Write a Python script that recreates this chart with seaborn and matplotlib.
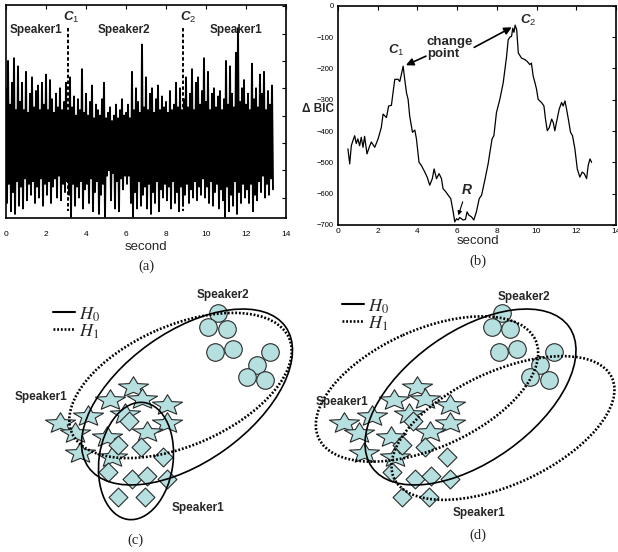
import numpy as np
import pandas as pd
import matplotlib.pyplot as plt
import seaborn as sns
from matplotlib.patches import Ellipse
from matplotlib.path import Path

sns.set_style('white')
plt.rcParams['font.family'] = ['Liberation Sans', 'DejaVu Sans']
plt.rcParams['mathtext.fontset'] = 'custom'
plt.rcParams['mathtext.bf'] = 'Liberation Sans:bold:italic'
plt.rcParams['mathtext.it'] = 'Liberation Sans:italic'
plt.rcParams['mathtext.rm'] = 'Liberation Sans'

# (a) speech waveform: upper / lower peaks every 0.1 s
wave_up = [20, 30, 14, 22, 31, 12, 28, 15, 22, 12,
           26, 11, 18, 24, 13, 19, 21, 12, 22, 14,
           25, 12, 23, 16, 11, 18, 13, 20, 12, 15,
           22, 11, 24, 13, 17, 10, 16, 12, 27, 11,
           18, 10, 15, 21, 9, 14, 12, 10, 16, 22,
           9, 11, 13, 8, 10, 14, 9, 12, 16, 10,
           11, 14, 9, 26, 12, 20, 15, 11, 36, 13,
           24, 12, 18, 20, 11, 16, 21, 12, 17, 13,
           15, 11, 19, 12, 14, 22, 13, 20, 12, 16,
           24, 13, 18, 27, 12, 22, 24, 14, 19, 31,
           15, 26, 12, 18, 20, 13, 17, 19, 12, 16,
           30, 14, 28, 18, 13, 33, 42, 15, 20, 23,
           14, 18, 12, 29, 16, 20, 13, 25, 18, 26,
           12, 19, 14, 21]
wave_low = [-22, -15, -25, -18, -26, -14, -23, -16, -24, -13,
            -21, -15, -19, -14, -22, -16, -20, -13, -23, -15,
            -19, -14, -22, -16, -13, -20, -12, -21, -15, -18,
            -14, -19, -27, -15, -23, -16, -20, -14, -24, -17,
            -15, -22, -13, -25, -18, -14, -26, -19, -15, -27,
            -12, -10, -21, -11, -24, -14, -25, -13, -17, -12,
            -15, -12, -22, -27, -18, -24, -14, -23, -19, -16,
            -24, -15, -26, -18, -22, -14, -25, -17, -20, -15,
            -21, -16, -24, -14, -22, -18, -25, -16, -23, -19,
            -15, -22, -17, -20, -14, -21, -16, -19, -13, -20,
            -16, -22, -14, -23, -18, -15, -24, -17, -21, -27,
            -16, -25, -19, -23, -14, -26, -18, -22, -15, -20,
            -17, -22, -15, -25, -19, -21, -14, -18, -12, -20,
            -15, -19, -13, -17]
change_t = [3.12, 8.87]
speaker_t = [1.5, 5.9, 11.5]
speaker_names = ['Speaker1', 'Speaker2', 'Speaker1']

# (b) delta BIC curve
bic_t = [0.50, 0.59, 0.67, 0.75, 0.84, 0.92, 1.00, 1.09, 1.17, 1.26, 1.34, 1.46, 1.60, 1.68,
         1.85, 2.02, 2.18, 2.27, 2.44, 2.55, 2.69, 2.77, 2.86, 3.03, 3.11, 3.19, 3.28, 3.36,
         3.45, 3.53, 3.61, 3.75, 3.87, 3.95, 4.08, 4.20, 4.37, 4.49, 4.62, 4.75, 4.84, 4.96,
         5.09, 5.21, 5.29, 5.43, 5.55, 5.68, 5.80, 5.88, 5.97, 6.05, 6.13, 6.30, 6.42, 6.50,
         6.58, 6.72, 6.84, 6.97, 7.11, 7.23, 7.39, 7.56, 7.65, 7.76, 7.85, 7.98, 8.15, 8.32,
         8.49, 8.57, 8.66, 8.74, 8.80, 8.86, 8.92, 9.00, 9.08, 9.24, 9.41, 9.53, 9.66, 9.74,
         9.83, 9.92, 10.00, 10.08, 10.25, 10.37, 10.45, 10.54, 10.64, 10.76, 10.84, 10.92,
         11.00, 11.14, 11.26, 11.34, 11.43, 11.51, 11.60, 11.71, 11.81, 11.93, 12.05, 12.18,
         12.30, 12.40, 12.52, 12.60, 12.69, 12.77]
bic_v = [-457, -505, -447, -431, -415, -440, -425, -447, -420, -452, -417, -473, -447, -435,
         -452, -425, -389, -346, -357, -320, -318, -278, -235, -235, -242, -220, -193, -235,
         -278, -299, -352, -404, -397, -425, -500, -510, -531, -547, -573, -552, -521, -552,
         -536, -552, -584, -594, -605, -616, -658, -690, -680, -684, -676, -684, -682, -658,
         -668, -674, -684, -658, -616, -605, -558, -505, -468, -425, -415, -341, -299, -246,
         -162, -109, -100, -98, -72, -85, -62, -77, -151, -167, -172, -178, -188, -183,
         -225, -246, -267, -299, -309, -320, -362, -399, -389, -362, -373, -399,
         -373, -330, -309, -320, -304, -330, -362, -404, -415, -457, -521, -547,
         -531, -536, -552, -510, -489, -500]

# (c)/(d) schematic clusters, in panel (c) units; panel (d) is the same cloud shifted
star_x = [133.3, 110, 141.7, 166.7, 60, 88.3, 125, 166.7, 75, 107.3, 146.7, 80, 111.7]
star_y = [387.3, 400, 399, 405, 423.3, 415.7, 414, 423.3, 433.3, 437.3, 431.7, 452.7, 456.7]
diam_x = [129.3, 118.3, 141, 163.3, 108.3, 131.7, 147.3, 166.7, 118.3, 145]
diam_y = [420.7, 445, 446.7, 457.3, 471.7, 479.3, 476, 479.3, 496.7, 496.7]
circ_x = [218.3, 208.3, 226.7, 215, 233.3, 270, 256.7, 246.7, 265]
circ_y = [313.3, 326.7, 329.3, 351.7, 349, 351.7, 365, 377.3, 380]
panel_dx = [0, 283.5]

# Gaussian ellipses: (c) H0 big, H1 big, H0 small, (d) H0, H1 upper, H1 lower
ell_cx = [187, 180.5, 136, 470.5, 427, 503]
ell_cy = [397, 385.5, 461, 397, 389, 428]
ell_w = [242, 237, 74, 242, 238, 240]
ell_h = [130, 120, 118, 130, 118, 113]
ell_ang = [35.5, 23.6, -8, 35.5, 24.2, 24.8]
ell_dotted = [False, True, False, False, True, True]

fill_col = '#b6dfdf'
edge_col = '#2b2b2b'

fig = plt.figure(figsize=(6.18, 5.52), dpi=100)
W, H = 618, 552


def px_axes(x0, y0, x1, y1):
    return fig.add_axes([x0 / W, 1 - y1 / H, (x1 - x0) / W, (y1 - y0) / H])


def style_box(ax):
    for s in ax.spines.values():
        s.set_color('k')
        s.set_linewidth(1.2)
    ax.tick_params(direction='in', length=3, width=0.8, top=True, right=True,
                   labelsize=6, colors='k')


# ---- (a)
ax1 = px_axes(6, 5, 286, 218)
n = len(wave_up)
t_up = np.arange(n) * 0.1
wave = pd.DataFrame({'t': np.concatenate([t_up, t_up + 0.05]),
                     'amp': np.concatenate([wave_up, wave_low])}).sort_values('t')
sns.lineplot(data=wave, x='t', y='amp', ax=ax1, color='k', lw=1.4, estimator=None)
for ct in change_t:
    ax1.plot([ct, ct], [42, -25], color='k', lw=1.4, ls=(0, (1.8, 1.2)))
for st, name in zip(speaker_t, speaker_names):
    ax1.text(st, 41.4, name, ha='center', va='center', fontsize=8.5, fontweight='bold')
ax1.text(2.85, 46, r'$\mathbf{C}_{\mathit{1}}$', ha='left', va='center', fontsize=9.5)
ax1.text(8.7, 46, r'$\mathbf{C}_{\mathit{2}}$', ha='left', va='center', fontsize=9.5)
ax1.set_xlim(0, 14)
ax1.set_ylim(-27.5, 50.5)
ax1.set_xticks(range(0, 15, 2))
ax1.set_yticks(range(-20, 51, 10))
ax1.set_yticklabels([])
ax1.set_xlabel('')
ax1.set_ylabel('')
style_box(ax1)
ax1.tick_params(axis='x', pad=9)

# ---- (b)
ax2 = px_axes(338, 5.7, 616, 225)
sns.lineplot(x=bic_t, y=bic_v, ax=ax2, color='k', lw=0.9, estimator=None)
ax2.set_xlim(0, 14)
ax2.set_ylim(-700, 0)
ax2.set_xticks(range(0, 15, 2))
ax2.set_yticks(range(-700, 1, 100))
style_box(ax2)
ax2.tick_params(axis='y', labelsize=5.5, pad=3)
ax2.tick_params(axis='x', pad=2)
ax2.text(2.52, -142, r'$\mathbf{C}_{\mathit{1}}$', ha='left', va='center', fontsize=9.5)
ax2.text(9.16, -46, r'$\mathbf{C}_{\mathit{2}}$', ha='left', va='center', fontsize=9.5)
ax2.text(4.47, -134, 'change\npoint', ha='left', va='center', fontsize=9.5,
         fontweight='bold', linespacing=1.0)
arr = dict(arrowstyle='-|>', color='k', lw=1.2, mutation_scale=11, shrinkA=0, shrinkB=0)
ax2.annotate('', xy=(3.42, -190), xytext=(4.43, -161), arrowprops=arr)
ax2.annotate('', xy=(8.75, -69), xytext=(6.86, -133), arrowprops=arr)
ax2.text(6.48, -589, 'R', ha='center', va='center', fontsize=10, fontweight='bold',
         fontstyle='italic')
ax2.annotate('', xy=(6.06, -669), xytext=(6.28, -626),
             arrowprops=dict(arrowstyle='-|>', color='k', lw=0.8, mutation_scale=6,
                             shrinkA=0, shrinkB=0))
fig.text(318 / W, 1 - 109 / H, '\u0394 BIC', ha='center', va='center', fontsize=8.5,
         fontweight='bold')

fig.text(146 / W, 1 - 247 / H, 'second', ha='center', va='center', fontsize=9.5)
fig.text(478 / W, 1 - 241 / H, 'second', ha='center', va='center', fontsize=9.5)
for lab, x, y in [('(a)', 146, 266), ('(b)', 478, 261), ('(c)', 135, 540), ('(d)', 478, 535)]:
    fig.text(x / W, 1 - y / H, lab, ha='center', va='center', fontsize=10.5,
             family='Liberation Serif')

# ---- (c) and (d)
ax3 = px_axes(0, 270, 618, 552)
ax3.set_xlim(0, 618)
ax3.set_ylim(552, 270)
ax3.axis('off')

sv = Path.unit_regular_star(5, 0.45)
star_m = Path(sv.vertices * np.array([1.0, 0.68]), sv.codes)
diam_m = Path([(0, 1), (1, 0), (0, -1), (-1, 0), (0, 1)],
              [Path.MOVETO, Path.LINETO, Path.LINETO, Path.LINETO, Path.CLOSEPOLY])

for dx in panel_dx:
    sns.scatterplot(x=np.array(circ_x) + dx, y=circ_y, ax=ax3, marker='o', s=160,
                    color=fill_col, edgecolor=edge_col, linewidth=0.8, zorder=2)
    sns.scatterplot(x=np.array(star_x) + dx, y=star_y, ax=ax3, marker=star_m, s=470,
                    color=fill_col, edgecolor=edge_col, linewidth=0.8, zorder=2)
    sns.scatterplot(x=np.array(diam_x) + dx, y=diam_y, ax=ax3, marker=diam_m, s=185,
                    color=fill_col, edgecolor=edge_col, linewidth=0.8, zorder=2)

for cx, cy, w, h, a, dot in zip(ell_cx, ell_cy, ell_w, ell_h, ell_ang, ell_dotted):
    if dot:
        e = Ellipse((cx, cy), w, h, angle=-a, fill=False, ec='k', lw=1.9,
                    ls=(0, (0.7, 0.7)), zorder=3)
    else:
        e = Ellipse((cx, cy), w, h, angle=-a, fill=False, ec='k', lw=1.2, zorder=3)
    ax3.add_patch(e)

# legends
for x0, y0 in [(53, 312), (342, 304)]:
    ax3.plot([x0, x0 + 22], [y0, y0], color='k', lw=1.5)
    ax3.plot([x0, x0 + 22], [y0 + 17, y0 + 17], color='k', lw=1.9, ls=(0, (0.7, 0.7)))
    ax3.text(x0 + 26, y0 + 3, r'$H_0$', ha='left', va='center', fontsize=13,
             math_fontfamily='stix')
    ax3.text(x0 + 26, y0 + 20, r'$H_1$', ha='left', va='center', fontsize=13,
             math_fontfamily='stix')

for name, x, y in [('Speaker2', 223, 295), ('Speaker1', 41, 397), ('Speaker1', 198, 508),
                   ('Speaker2', 524, 297), ('Speaker1', 342, 402), ('Speaker1', 479, 513)]:
    ax3.text(x, y, name, ha='center', va='center', fontsize=8.5, fontweight='bold')

fig.savefig('out.png', dpi=100)
